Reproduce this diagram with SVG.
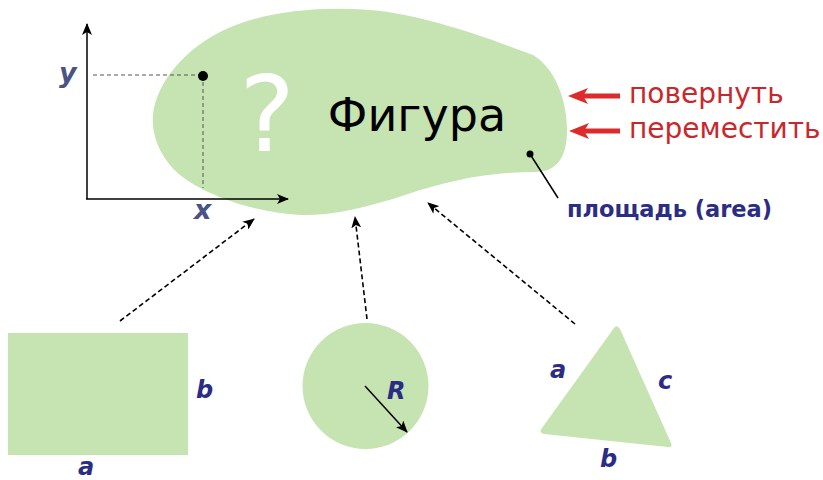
<svg xmlns="http://www.w3.org/2000/svg" width="823" height="480" viewBox="0 0 823 480">
<style>
.shape{fill:#c6e3b2}
.lbl{font-family:"DejaVu Sans",sans-serif;font-weight:bold;font-style:italic;fill:#2b2d84;font-size:24px}
.axl{font-family:"DejaVu Sans",sans-serif;font-weight:bold;font-style:italic;fill:#4a5382;font-size:27px}
.red{font-family:"DejaVu Sans",sans-serif;fill:#c8282c;font-size:28px}
.dash{fill:none;stroke:#000;stroke-width:1.6;stroke-dasharray:5,3;marker-end:url(#ah)}
.guide{fill:none;stroke:#555;stroke-width:1;stroke-dasharray:4,3}
</style>
<defs>
<marker id="ah" viewBox="0 0 12 10" refX="11" refY="5" markerWidth="12" markerHeight="10" markerUnits="userSpaceOnUse" orient="auto">
<path d="M0,0 L12,5 L0,10 L3,5 Z" fill="#000"/>
</marker>
<marker id="rh" viewBox="0 0 20 16" refX="8" refY="8" markerWidth="20" markerHeight="16" markerUnits="userSpaceOnUse" orient="auto">
<path d="M20,8 L0,0 L5,8 L0,16 Z" fill="#dd2a2a"/>
</marker>
</defs>

<g id="figure">
<path class="shape" d="M153,125 C150,95 175,55 220,32 C260,12 315,6 370,10 C420,14 480,35 533,55 C555,68 567,100 567,130 C567,160 555,172 535,172 C490,172 450,180 405,195 C365,208 330,216 300,215 C255,213 205,195 180,175 C162,160 154,140 153,125 Z"/>
<text x="267" y="151" text-anchor="middle" font-family="DejaVu Sans,sans-serif" font-size="105" fill="#fff">?</text>
<text x="417" y="131" text-anchor="middle" font-family="DejaVu Sans,sans-serif" font-size="46" fill="#000">Фигура</text>
</g>

<g id="axes">
<line x1="87" y1="199" x2="87" y2="24" stroke="#000" stroke-width="1.5" marker-end="url(#ah)"/>
<line x1="86" y1="199" x2="288" y2="199" stroke="#000" stroke-width="1.5" marker-end="url(#ah)"/>
<path class="guide" d="M93,75 H203 M203,75 V188"/>
<circle cx="203" cy="76" r="5" fill="#000"/>
<text class="axl" x="59" y="82">y</text>
<text class="axl" x="194" y="219">x</text>
</g>

<g id="actions">
<line x1="620" y1="96" x2="580" y2="96" stroke="#dd2a2a" stroke-width="5" marker-end="url(#rh)"/>
<line x1="620" y1="131" x2="581" y2="131" stroke="#dd2a2a" stroke-width="5" marker-end="url(#rh)"/>
<text class="red" x="629" y="103">повернуть</text>
<text class="red" x="629" y="138">переместить</text>
</g>

<g id="area">
<circle cx="530" cy="154" r="3.5" fill="#000"/>
<line x1="530" y1="154" x2="558" y2="198" stroke="#000" stroke-width="1.5"/>
<text x="567" y="217" font-family="DejaVu Sans,sans-serif" font-weight="bold" font-size="22.5" fill="#2b2d84">площадь (area)</text>
</g>

<g id="rectangle">
<rect class="shape" x="8" y="333" width="180" height="122"/>
<text class="lbl" x="196" y="398">b</text>
<text class="lbl" x="78" y="475">a</text>
</g>

<g id="circle">
<circle class="shape" cx="365.5" cy="386" r="63"/>
<line x1="365" y1="386" x2="407" y2="432" stroke="#000" stroke-width="1.5" marker-end="url(#ah)"/>
<text class="lbl" x="387" y="399">R</text>
</g>

<g id="triangle">
<path class="shape" d="M614,328 Q617,324 620,329 L671,443 Q673,448 668,447 L544,434 Q538,432 542,428 Z"/>
<text class="lbl" x="550" y="378">a</text>
<text class="lbl" x="658" y="389">c</text>
<text class="lbl" x="600" y="467">b</text>
</g>

<g id="connectors">
<line class="dash" x1="120" y1="321" x2="254" y2="219"/>
<line class="dash" x1="367" y1="319" x2="355" y2="217"/>
<line class="dash" x1="575" y1="324" x2="428" y2="203"/>
</g>
</svg>
